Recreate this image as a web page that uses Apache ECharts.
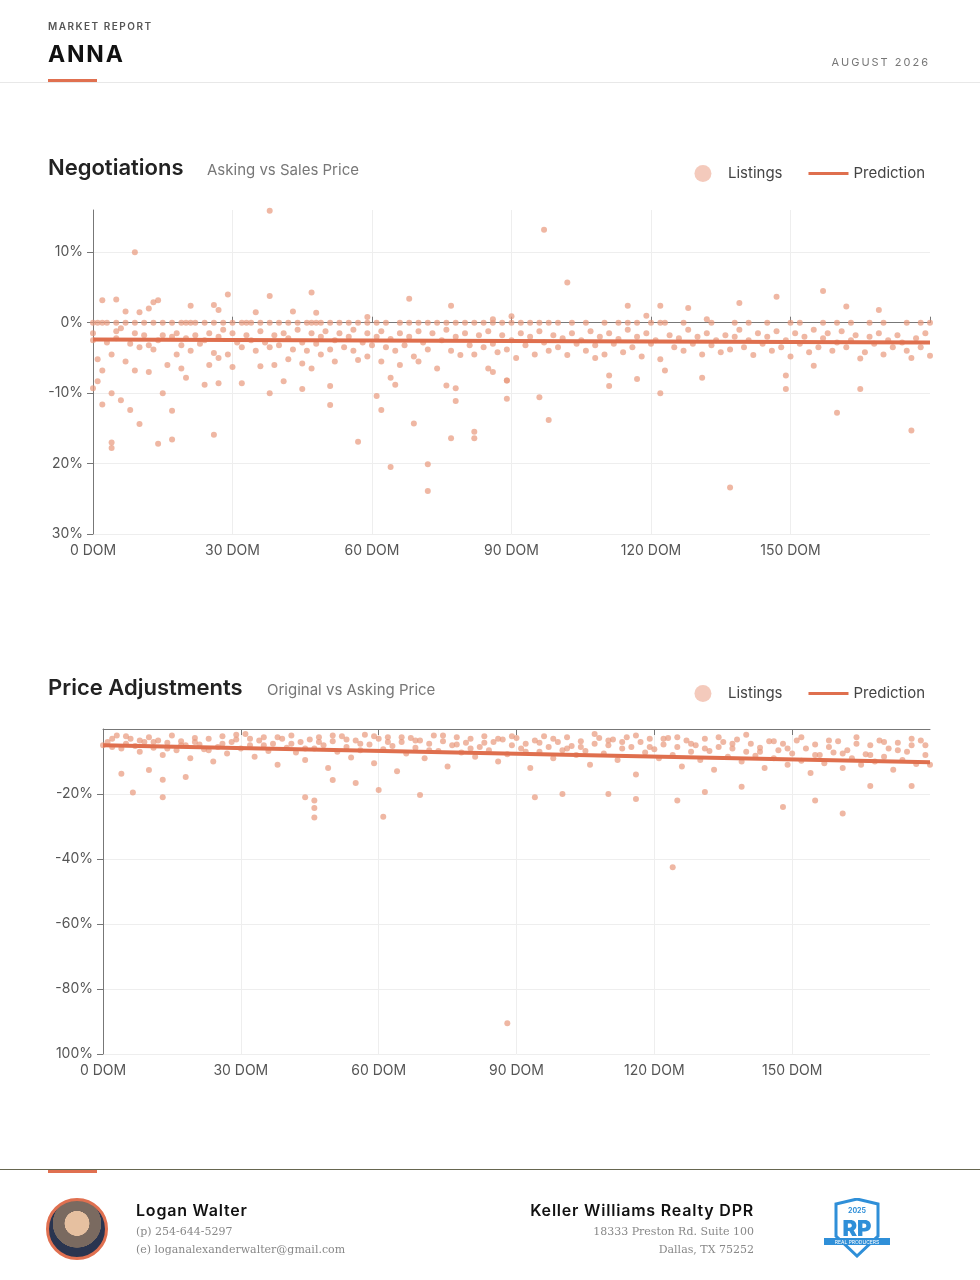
<!DOCTYPE html>
<html><head><meta charset="utf-8">
<script src="https://cdn.jsdelivr.net/npm/echarts@6/dist/echarts.min.js"></script>
<style>
body{margin:0;width:980px;height:1280px;position:relative;background:#fff;font-family:Inter,"Noto Sans",sans-serif;overflow:hidden}
.abs{position:absolute}
#c{position:absolute;left:0;top:0;width:980px;height:1280px}
</style></head><body>
<div id="c"></div>
<div class="abs" style="left:48px;top:20px;font-size:10px;letter-spacing:1.5px;color:#555;font-weight:600">MARKET REPORT</div>
<div class="abs" style="left:48px;top:40px;font-size:23px;font-weight:700;letter-spacing:1.8px;color:#111">ANNA</div>
<div class="abs" style="left:48px;top:79px;width:49px;height:3px;background:#e07050"></div>
<div class="abs" style="left:0;top:82px;width:980px;height:1px;background:#e8e8e8"></div>
<div class="abs" style="right:50px;top:55px;font-size:11px;letter-spacing:2px;color:#777">AUGUST 2026</div>
<div class="abs" style="left:0;top:1169px;width:980px;height:1px;background:#666650"></div>
<div class="abs" style="left:48px;top:1170px;width:49px;height:3px;background:#e07050"></div>
<div class="abs" style="left:46px;top:1198px;width:56px;height:56px;border-radius:50%;border:3px solid #e07050;background:radial-gradient(circle at 50% 40%,#e6c0a0 0 28%,#7a6a60 29% 55%,#2a3550 56%)"></div>
<div class="abs" style="left:136px;top:1200px;font-size:16px;font-weight:600;letter-spacing:0.8px;color:#111">Logan Walter</div>
<div class="abs" style="left:136px;top:1225px;font-size:11px;color:#888;font-family:'DejaVu Serif',serif">(p) 254-644-5297</div>
<div class="abs" style="left:136px;top:1243px;font-size:11px;color:#888;font-family:'DejaVu Serif',serif">(e) loganalexanderwalter@gmail.com</div>
<div class="abs" style="right:226px;top:1200px;font-size:16px;font-weight:600;letter-spacing:0.8px;color:#111">Keller Williams Realty DPR</div>
<div class="abs" style="right:226px;top:1225px;font-size:11px;color:#888;font-family:'DejaVu Serif',serif">18333 Preston Rd. Suite 100</div>
<div class="abs" style="right:226px;top:1243px;font-size:11px;color:#888;font-family:'DejaVu Serif',serif">Dallas, TX 75252</div>
<svg class="abs" style="left:822px;top:1198px" width="70" height="60" viewBox="0 0 70 60">
<path d="M14 6 L35 1 L56 6 L56 38 L35 58 L14 38 Z" fill="#fff" stroke="#2f8fd8" stroke-width="3"/>
<text x="35" y="15" font-size="7" fill="#2f8fd8" text-anchor="middle" font-weight="700">2025</text>
<text x="35" y="38" font-size="22" fill="#2f8fd8" text-anchor="middle" font-weight="900">RP</text>
<rect x="2" y="40" width="66" height="7" fill="#2f8fd8"/>
<text x="35" y="46" font-size="5" fill="#fff" text-anchor="middle">REAL PRODUCERS</text>
</svg>
<script>
var xTicks=[0,30,60,90,120,150];
var xLabels=['0 DOM','30 DOM','60 DOM','90 DOM','120 DOM','150 DOM'];
var yTicksTop=[-30,-20,-10,0,10];
var yLabelsTop=['30%','20%','-10%','0%','10%'];
var yTicksBottom=[-100,-80,-60,-40,-20,0];
var yLabelsBottom=['100%','-80%','-60%','-40%','-20%',''];
var predTop=[[0,-2.4],[180,-2.8]];
var predBottom=[[0,-5],[180,-10.2]];
var zerosTopDays=[0,1,2,3,5,7,9,11,13,15,17,19,20,21,22,24,26,28,30,32,33,34,36,38,40,42,44,46,47,48,49,51,53,55,57,59,61,63,66,68,70,72,74,76,78,80,82,84,86,88,90,92,94,96,98,100,103,106,110,113,115,117,120,122,123,127,133,138,141,145,150,152,157,160,163,167,170,175,178,180];
var listingsTopOther=[
[9,10],[38,15.9],[47,4.3],[29,4],[68,3.4],[77,2.4],[5,3.3],[2,3.2],[14,3.2],[13,2.9],[38,3.8],[21,2.4],[26,2.5],[90,0.9],[97,13.2],[102,5.7],[157,4.5],[147,3.7],[139,2.8],[128,2.1],[122,2.4],[115,2.4],[162,2.3],[169,1.8],[10,1.5],[7,1.6],[12,2],[27,1.8],[35,1.5],[43,1.6],[48,1.4],[59,0.8],[86,0.5],[119,1],[132,0.5],
[0,-9.3],[1,-8.3],[2,-11.6],[4,-10],[6,-11],[4,-17],[4,-17.8],[8,-12.4],[10,-14.4],[14,-17.2],[15,-10],[17,-12.5],[17,-16.6],[26,-15.9],[38,-10],[45,-9.4],[51,-11.7],[57,-16.9],[61,-10.4],[62,-12.4],[64,-20.5],[69,-14.3],[72,-20.1],[72,-23.9],[77,-16.4],[82,-15.5],[82,-16.4],[89,-10.8],[64,-7.8],[65,-8.8],[51,-9],[24,-8.8],[27,-8.6],[32,-8.6],[41,-8.3],[76,-8.9],[78,-9.3],[78,-11.1],[89,-8.2],
[96,-10.6],[98,-13.8],[89,-8.2],[86,-7],[111,-7.5],[111,-9],[117,-8],[122,-10],[123,-6.8],[131,-7.8],[137,-23.4],[149,-7.5],[149,-9.4],[155,-6.1],[160,-12.8],[165,-9.4],[165,-5.1],[176,-15.3],[176,-5],[180,-4.7],[108,-5],
[0,-1.5],[0,-2.5],[1,-5.2],[2,-6.8],[3,-2.8],[4,-4.5],[5,-1.2],[5,-2.2],[6,-0.8],[7,-5.5],[8,-3],[9,-6.8],[9,-1.5],[10,-3.5],[11,-1.8],[12,-7],[12,-3.2],[13,-3.8],[14,-2.5],[15,-1.8],[16,-6],[17,-2],[18,-4.5],[18,-1.5],[19,-3.2],[19,-6.5],[20,-2.2],[20,-7.8],[21,-4],[22,-1.8],[23,-3],[24,-2.5],[25,-6],[25,-1.5],[26,-4.3],[27,-5],[27,-2],[28,-1],[29,-4.5],[30,-1.5],[30,-6.3],[31,-2.8],[32,-3.5],[33,-1.8],[34,-2.5],[35,-4],[36,-1.2],[36,-6.2],[37,-2.8],[38,-3.5],[39,-1.8],[39,-6],[40,-3.2],[41,-1.5],[42,-5.2],[42,-2.2],[43,-3.8],[44,-1],[45,-2.8],[45,-5.8],[46,-4],[47,-6.5],[47,-1.5],[48,-3],[49,-4.5],[49,-2],[50,-1.2],[51,-3.8],[52,-5.5],[52,-2.5],[53,-1.5],[54,-3.5],[55,-2],[56,-4],[56,-1],[57,-5.3],[58,-2.8],[59,-4.8],[59,-1.5],[60,-3.2],[61,-2],[62,-5.5],[62,-1.2],[63,-3.5],[64,-2.3],[65,-4],[66,-1.5],[66,-6],[67,-3.2],[68,-2],[69,-4.8],[70,-1.2],[70,-5.5],[71,-2.8],[72,-3.8],[73,-1.5],[74,-6.5],[75,-2.5],[76,-1],[77,-4],[78,-2],[79,-4.6],[80,-1.5],[81,-3.2],[82,-4.5],[83,-1.8],[84,-3.5],[85,-1.2],[85,-6.5],[86,-3],[87,-4.2],[88,-1.8],[89,-3.8],[90,-2.5],[91,-5],[92,-1.5],[93,-3.2],[94,-2],[95,-4.5],[96,-1.2],[97,-2.8],[98,-4],[99,-1.8],[100,-3.5],[101,-2.2],[102,-4.6],[103,-1.5],[104,-3],[105,-2.5],[106,-4],[107,-1.2],[108,-3.2],[109,-2],[110,-4.5],[111,-1.5],[112,-3],[113,-2.3],[114,-4.2],[115,-1],[116,-3.5],[117,-2],[118,-4.8],[119,-1.5],[120,-3],[121,-2.5],[122,-5.2],[124,-1.8],[125,-3.5],[126,-2.2],[127,-4],[128,-1],[129,-3],[130,-2],[131,-4.5],[132,-1.5],[133,-3.2],[134,-2.5],[135,-4.2],[136,-1.8],[137,-3.8],[138,-2],[139,-1],[140,-3.5],[141,-2.5],[142,-4.6],[143,-1.5],[144,-3],[145,-2],[146,-4],[147,-1.2],[148,-3.5],[149,-2.5],[150,-4.8],[151,-1.5],[152,-3],[153,-2],[154,-4.2],[155,-1],[156,-3.5],[157,-2.2],[158,-1.5],[159,-4],[160,-2.8],[161,-1.2],[162,-3.5],[163,-2.5],[164,-1.8],[166,-4.2],[167,-2],[168,-3],[169,-1.5],[170,-4.5],[171,-2.5],[172,-3.5],[173,-1.8],[174,-2.8],[175,-4],[177,-2.2],[178,-3.5],[179,-1.5]
];
var listingsBottom=[
[88,-90.5],[124,-42.5],[61,-27],[46,-27.2],[46,-24.3],[46,-22],[44,-21],[148,-24],[161,-26],[155,-22],[125,-22],[110,-20],[116,-21.5],[94,-21],[100,-20],[6.5,-19.5],[13,-21],[13,-15.6],[10,-12.6],[4,-13.8],[18,-14.8],[131,-19.4],[139,-17.8],[176,-17.5],[167,-17.5],[60,-18.8],[55,-16.6],[50,-15.7],[69,-20.3],
[0,-5],[1,-4],[2,-5.5],[3,-2],[4,-6],[5,-4.5],[6,-3],[7,-5.2],[8,-7],[9,-4],[10,-2.5],[11,-5.8],[12,-3.5],[13,-8],[14,-4.2],[15,-2],[16,-6.5],[17,-3.8],[18,-5],[19,-9],[20,-2.8],[21,-4.8],[22,-6.2],[23,-3],[24,-10],[25,-5.5],[26,-2.2],[27,-7.5],[28,-4],[29,-3.2],[30,-6],[31,-1.5],[32,-5],[33,-8.5],[34,-3.5],[35,-2.5],[36,-6.8],[37,-4.5],[38,-11],[39,-3],[40,-5.8],[41,-2],[42,-7.2],[43,-4],[44,-9.5],[45,-3.2],[46,-6],[47,-2.5],[48,-5],[49,-12],[50,-3.8],[51,-7],[52,-2.2],[53,-5.5],[54,-8.8],[55,-3.5],[56,-6.5],[57,-1.8],[58,-4.8],[59,-10.5],[60,-3],[61,-6.2],[62,-2.5],[63,-5.2],[64,-13],[65,-4],[66,-7.5],[67,-2.8],[68,-5.8],[69,-3.5],[70,-9],[71,-4.5],[72,-2],[73,-6.8],[74,-3.8],[75,-11.5],[76,-5],[77,-2.5],[78,-7.2],[79,-4.2],[80,-3],[81,-8.5],[82,-5.5],[83,-2.2],[84,-6.5],[85,-4],[86,-10],[87,-3.2],[88,-7.8],[89,-5],[90,-2.8],[91,-6],[92,-4.5],[93,-12],[94,-3.5],[95,-7],[96,-2.2],[97,-5.5],[98,-9],[99,-4],[100,-6.5],[101,-2.5],[102,-5.2],[103,-8],[104,-3.8],[105,-6.8],[106,-11],[107,-4.5],[108,-2.8],[109,-7.5],[110,-5],[111,-3.2],[112,-9.5],[113,-6],[114,-2.5],[115,-5.5],[116,-14],[117,-4],[118,-7.2],[119,-3],[120,-6.2],[121,-9],[122,-4.8],[123,-2.8],[124,-8],[125,-5.5],[126,-11.5],[127,-3.5],[128,-7],[129,-5],[130,-9.5],[131,-3],[132,-6.8],[133,-12.5],[134,-5.5],[135,-4],[136,-8.5],[137,-6],[138,-3.2],[139,-10],[140,-7],[141,-4.5],[142,-8.2],[143,-5.8],[144,-12],[145,-3.8],[146,-9],[147,-6.5],[148,-4.5],[149,-11],[150,-7.5],[151,-3.5],[152,-9.8],[153,-6],[154,-13.5],[155,-4.8],[156,-8],[157,-10.5],[158,-5.5],[159,-7.2],[160,-3.8],[161,-12],[162,-6.5],[163,-9],[164,-4.5],[165,-11],[166,-7.8],[167,-5],[168,-10],[169,-3.5],[170,-8.5],[171,-6],[172,-12.5],[173,-4.2],[174,-9.5],[175,-7],[176,-5],[177,-10.8],[178,-3.5],[179,-8],[180,-11],
[2,-3],[5,-2.2],[8,-3.5],[11,-4],[14,-6],[17,-5],[20,-4],[23,-6.5],[26,-4.5],[29,-1.8],[32,-3],[35,-5],[38,-2.5],[41,-4.5],[44,-6],[47,-4],[50,-2],[53,-3.2],[56,-4.5],[59,-2.2],[62,-4],[65,-2.5],[68,-3.5],[71,-6.5],[74,-2],[77,-4.8],[80,-6],[83,-4.2],[86,-3],[89,-2.2],[92,-7],[95,-4.2],[98,-3],[101,-6],[104,-5.5],[107,-1.5],[110,-3.5],[113,-4],[116,-2],[119,-5.5],[122,-3],[125,-2.5],[128,-4.5],[131,-6],[134,-2.5],[137,-4.5],[140,-1.8],[143,-7],[146,-3.8],[149,-6],[152,-2.5],[155,-8],[158,-3.5],[161,-7.5],[164,-2.5],[167,-8],[170,-4],[173,-6.5],[176,-3],[179,-5]
];
var listingsTop=zerosTopDays.map(function(d){return [d,0];}).concat(listingsTopOther);

var PT='#e8997c', LINE='#df6f4e';
var axisTxt={color:'#555',fontSize:14,fontFamily:'Inter'};
function xAxisCfg(idx,lineOn){
  return {type:'value',gridIndex:idx,min:0,max:180,interval:30,
    axisLabel:Object.assign({show:true,showMaxLabel:false,margin:10,formatter:function(v){var i=xTicks.indexOf(v);return i<0?'':xLabels[i];}},axisTxt),
    axisLine:{show:lineOn,lineStyle:{color:'#777'}},axisTick:{show:lineOn,length:6,lineStyle:{color:'#777'}},
    splitLine:{show:true,showMaxLine:false,lineStyle:{color:'#eeeeee'}}};
}
function yAxisCfg(idx,min,max,ticks,labels){
  return {type:'value',gridIndex:idx,min:min,max:max,interval:idx===0?10:20,
    axisLabel:Object.assign({showMaxLabel:false,margin:10,formatter:function(v){var i=ticks.indexOf(v);return i<0?'':labels[i];}},axisTxt),
    axisLine:{show:true,lineStyle:{color:'#777'}},axisTick:{show:true,length:6,lineStyle:{color:'#777'}},
    splitLine:{show:true,showMaxLine:false,lineStyle:{color:'#eeeeee'}}};
}
var chart=echarts.init(document.getElementById('c'));
var topX1=xAxisCfg(0,true);topX1.axisLabel={show:false};topX1.axisLine.onZero=true;topX1.axisLine.onZeroAxisIndex=0;topX1.splitLine={show:false};
var topX0=xAxisCfg(0,false);topX0.axisLine={show:false,onZero:false};
var lineIcon='path://M0,0 L0.01,0 Z M0,7 L40,7 L40,10 L0,10 Z M39.99,17 L40,17 Z';
function legendCfg(top){
  return {top:top,right:50,itemGap:26,itemWidth:40,itemHeight:17,textStyle:{fontSize:15,color:'#444',fontFamily:'Inter'},
    data:[{name:'Listings',icon:'circle',itemStyle:{color:'#efb4a0'}},{name:'Prediction',icon:lineIcon}]};
}
var titleStyle={fontSize:22,fontWeight:600,color:'#222',fontFamily:'Inter'};
var subStyle={fontSize:15,fontWeight:400,color:'#777',fontFamily:'Inter'};
chart.setOption({
  animation:false,
  title:[
    {text:'Negotiations',padding:0,left:48,top:157,textStyle:titleStyle},
    {text:'Asking vs Sales Price',padding:0,left:207,top:163,textStyle:subStyle},
    {text:'Price Adjustments',padding:0,left:48,top:677,textStyle:titleStyle},
    {text:'Original vs Asking Price',padding:0,left:267,top:683,textStyle:subStyle}
  ],
  legend:[legendCfg(160),legendCfg(680)],
  grid:[{left:93,right:50,top:210,height:324},{left:103,right:50,top:729,height:325}],
  xAxis:[topX0,xAxisCfg(1,true),topX1],
  yAxis:[yAxisCfg(0,-30,16,yTicksTop,yLabelsTop),yAxisCfg(1,-100,0,yTicksBottom,yLabelsBottom)],
  series:[
    {name:'Listings',type:'scatter',xAxisIndex:0,yAxisIndex:0,data:listingsTop,symbolSize:6,itemStyle:{color:PT,opacity:0.7},z:2},
    {name:'Prediction',type:'line',xAxisIndex:0,yAxisIndex:0,data:predTop,symbol:'none',lineStyle:{color:LINE,width:4},itemStyle:{color:LINE},z:3},
    {name:'Listings',type:'scatter',xAxisIndex:1,yAxisIndex:1,data:listingsBottom,symbolSize:6,itemStyle:{color:PT,opacity:0.7},z:2},
    {name:'Prediction',type:'line',xAxisIndex:1,yAxisIndex:1,data:predBottom,symbol:'none',lineStyle:{color:LINE,width:4},itemStyle:{color:LINE},z:3}
  ]
});
</script>
</body></html>
